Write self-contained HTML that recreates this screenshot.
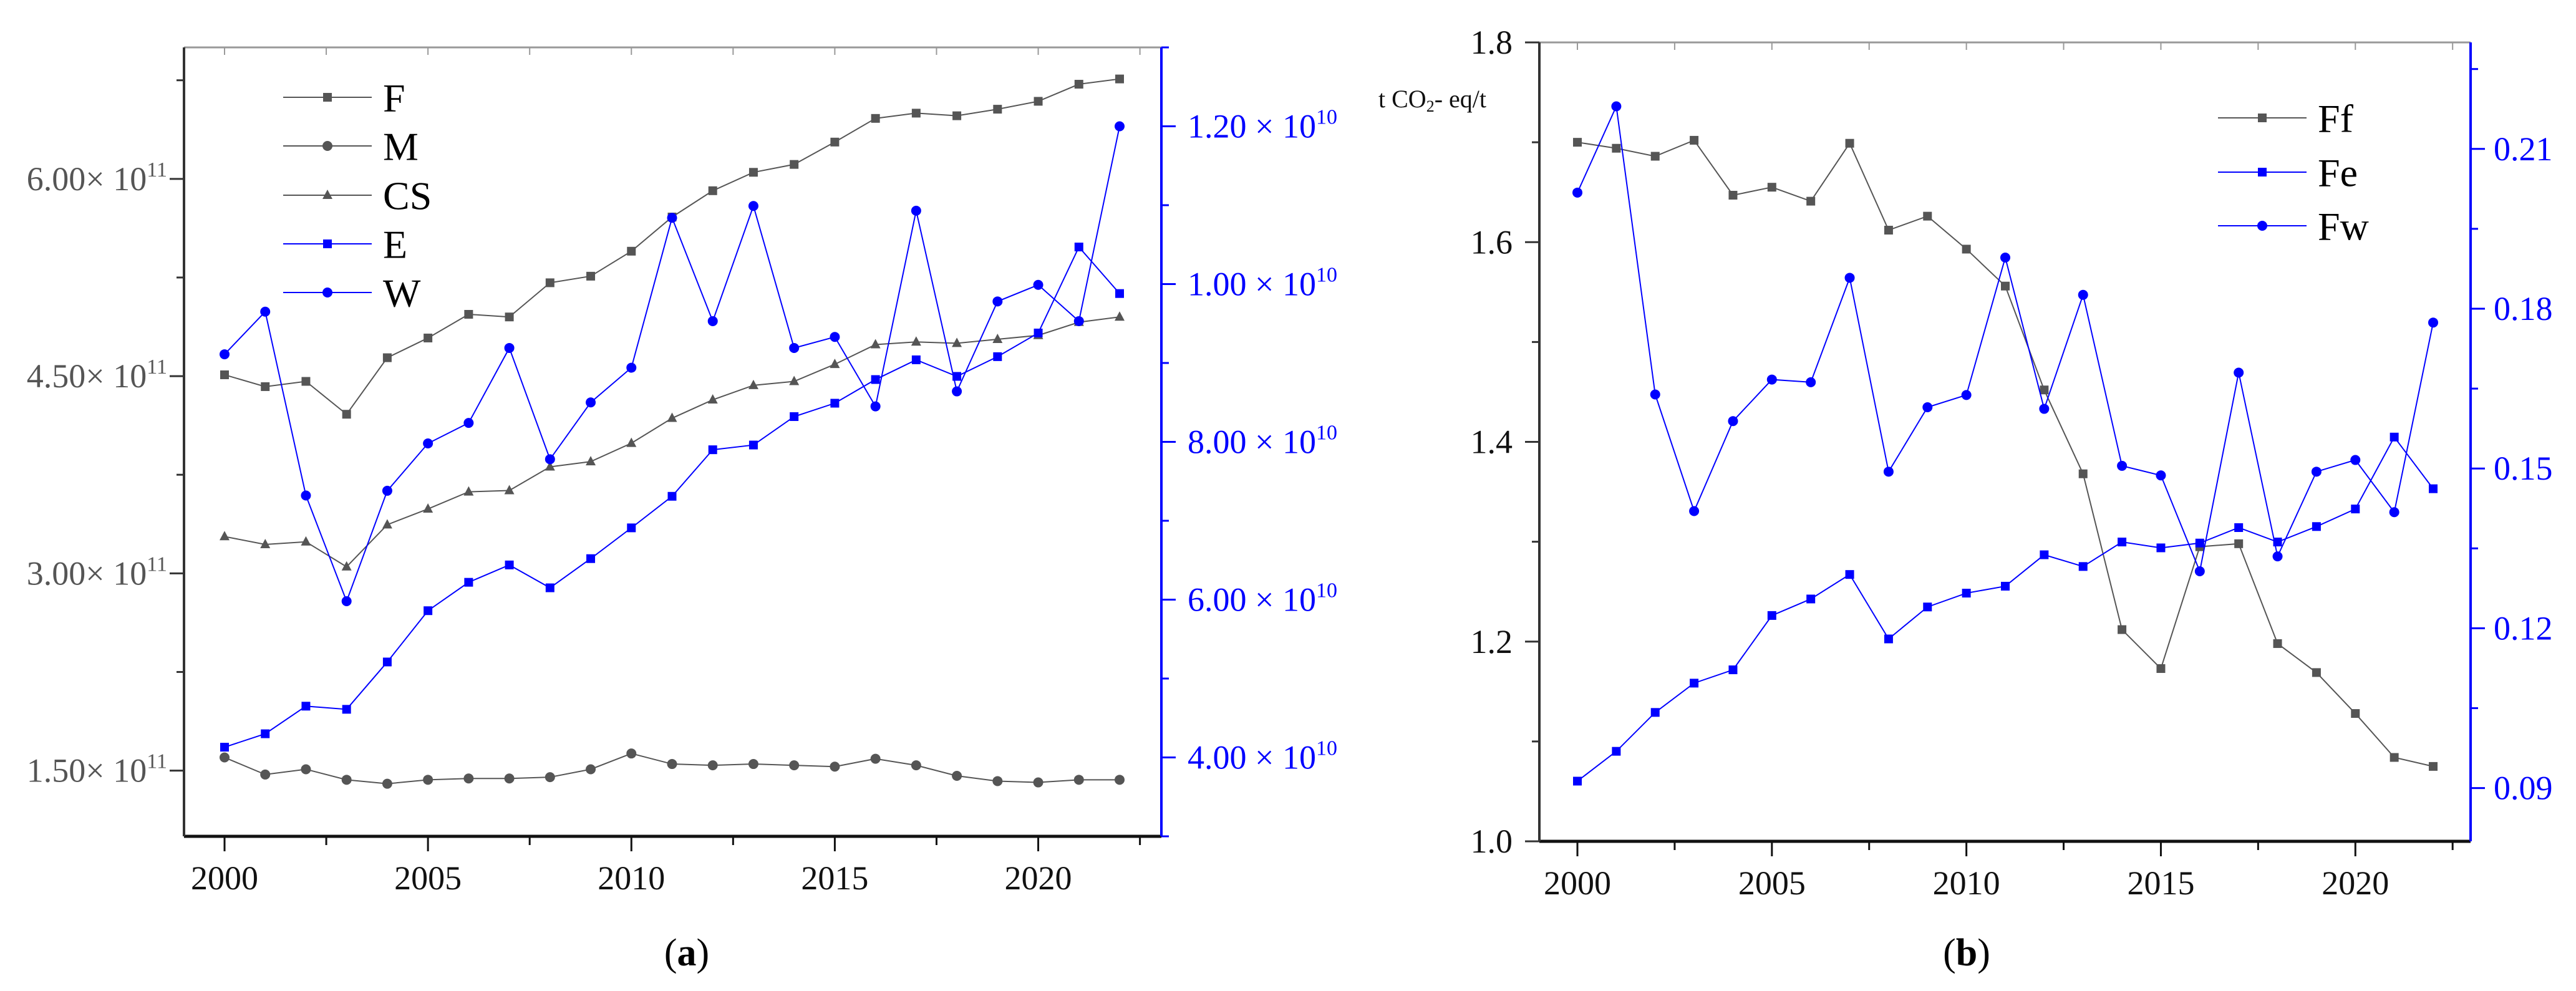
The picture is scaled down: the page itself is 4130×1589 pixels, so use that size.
<!DOCTYPE html>
<html><head><meta charset="utf-8">
<style>
html,body{margin:0;padding:0;background:#fff;}
svg{display:block;font-family:"Liberation Serif","Times New Roman",serif;}
</style></head>
<body>
<svg id="fig" width="4130" height="1589" viewBox="0 0 4130 1589" xmlns="http://www.w3.org/2000/svg" font-family="Liberation Serif, serif"></svg>
<script>
const years = [2000,2001,2002,2003,2004,2005,2006,2007,2008,2009,2010,2011,2012,2013,2014,2015,2016,2017,2018,2019,2020,2021,2022];
// Panel (a): left axis in units of 1e11, right axis in units of 1e9
const seriesF = [4.51,4.42,4.46,4.21,4.64,4.79,4.97,4.95,5.21,5.26,5.45,5.71,5.91,6.05,6.11,6.28,6.46,6.50,6.48,6.53,6.59,6.72,6.76];
const seriesM = [1.60,1.47,1.51,1.43,1.40,1.43,1.44,1.44,1.45,1.51,1.63,1.55,1.54,1.55,1.54,1.53,1.59,1.54,1.46,1.42,1.41,1.43,1.43];
const seriesCS = [3.28,3.22,3.24,3.05,3.37,3.49,3.62,3.63,3.81,3.85,3.99,4.18,4.32,4.43,4.46,4.59,4.74,4.76,4.75,4.78,4.81,4.91,4.95];
const seriesE = [4.13,4.30,4.65,4.61,5.21,5.86,6.22,6.44,6.15,6.52,6.91,7.31,7.90,7.96,8.32,8.49,8.79,9.04,8.83,9.08,9.38,10.47,9.88];
const seriesW = [9.11,9.65,7.32,5.98,7.38,7.98,8.24,9.19,7.78,8.50,8.94,10.84,9.53,10.99,9.19,9.33,8.45,10.93,8.64,9.78,9.99,9.53,12.0];
const aLeftTicks = [1.5,3.0,4.5,6.0];
const aLeftLabels = ["1.50","3.00","4.50","6.00"];
const aRightTicks = [4,6,8,10,12];
const aRightLabels = ["4.00","6.00","8.00","1.00","1.20"];
const aRightExp = ["10","10","10","10","10"];
// Panel (b)
const seriesFf = [1.700,1.694,1.686,1.702,1.647,1.655,1.641,1.699,1.612,1.626,1.593,1.556,1.452,1.368,1.212,1.173,1.295,1.298,1.198,1.169,1.128,1.084,1.075];
const seriesFe = [0.0913,0.0969,0.1042,0.1097,0.1122,0.1224,0.1255,0.1301,0.1180,0.1240,0.1266,0.1279,0.1338,0.1316,0.1362,0.1351,0.1360,0.1389,0.1362,0.1391,0.1424,0.1559,0.1462];
const seriesFw = [0.2018,0.2180,0.1639,0.1420,0.1589,0.1667,0.1662,0.1858,0.1494,0.1615,0.1638,0.1896,0.1612,0.1826,0.1505,0.1487,0.1307,0.1680,0.1335,0.1494,0.1516,0.1418,0.1774];
const bLeftTicks = [1.0,1.2,1.4,1.6,1.8];
const bLeftLabels = ["1.0","1.2","1.4","1.6","1.8"];
const bRightTicks = [0.09,0.12,0.15,0.18,0.21];
const bRightLabels = ["0.09","0.12","0.15","0.18","0.21"];
const xTickYears = [2000,2005,2010,2015,2020];

const NS="http://www.w3.org/2000/svg";
const svg=document.getElementById('fig');
function mk(tag,attrs,parent){const e=document.createElementNS(NS,tag);for(const k in attrs)e.setAttribute(k,attrs[k]);if(tag==='text')e.setAttribute('font-family','Liberation Serif, serif');(parent||svg).appendChild(e);return e;}
function lin(d0,d1,r0,r1){return v=>r0+(v-d0)*(r1-r0)/(d1-d0);}
const GRAY="#555", BLUE="#0000ff";

function marker(g,shape,x,y,color){
  let m;
  if(shape==='sq') m=mk('rect',{x:x-7,y:y-7,width:14,height:14,fill:color},g);
  else if(shape==='ci') m=mk('circle',{cx:x,cy:y,r:8,fill:color},g);
  else m=mk('polygon',{points:`${x},${y-9} ${x-8},${y+6} ${x+8},${y+6}`,fill:color},g);
  
  
}
function series(name,vals,xs,ys,color,shape){
  const g=mk('g',{});
  
  
  const pts=vals.map((v,i)=>xs(years[i])+','+ys(v)).join(' ');
  const l=mk('polyline',{points:pts,fill:'none',stroke:color,'stroke-width':2},g);
  
  
  vals.forEach((v,i)=>marker(g,shape,xs(years[i]),ys(v),color));
}
function legend(name,x,y,color,shape,fs){
  const g=mk('g',{});
  
  
  mk('line',{x1:x,y1:y,x2:x+142,y2:y,stroke:color,'stroke-width':2},g);
  marker(g,shape,x+71,y,color);
  const t=mk('text',{x:x+160,y:y+fs*0.35,'font-size':fs,fill:'#000'},g);
  t.textContent=name;
}
function xAxis(xs,L,R,T,B){
  const g=mk('g',{});
  
  
  mk('line',{x1:L,y1:T,x2:R,y2:T,stroke:'#999','stroke-width':3},g);
  mk('line',{x1:L,y1:B,x2:R,y2:B,stroke:'#111','stroke-width':5},g);
  for(let yr=2000;yr<=2022.5;yr+=2.5){
    const major=xTickYears.includes(yr);
    mk('line',{x1:xs(yr),y1:B,x2:xs(yr),y2:B+(major?24:14),stroke:'#111','stroke-width':3},g);
    mk('line',{x1:xs(yr),y1:T,x2:xs(yr),y2:T+12,stroke:'#999','stroke-width':2},g);
  }
  xTickYears.forEach(yr=>{
    const t=mk('text',{x:xs(yr),y:B+85,'font-size':54,'text-anchor':'middle',fill:'#111'},g);
    
    
    t.textContent=yr;
  });
}

// ===== Panel (a) =====
{
  const L=295,R=1862,T=76,B=1341;
  const xs=lin(2000,2022,360,1795);
  const yl=lin(1,7,B,T), yr=lin(3,13,B,T);
  xAxis(xs,L,R,T,B);
  const ga=mk('g',{});  
  mk('line',{x1:L,y1:T,x2:L,y2:B,stroke:'#333','stroke-width':4},ga);
  for(let v=1.5;v<=7;v+=0.75){const major=aLeftTicks.includes(v);mk('line',{x1:L,y1:yl(v),x2:L-(major?23:12),y2:yl(v),stroke:'#333','stroke-width':3},ga);}
  aLeftTicks.forEach((v,i)=>{
    const t=mk('text',{x:268,y:yl(v)+18,'font-size':54,'text-anchor':'end',fill:GRAY},ga);
    
    
    t.innerHTML=aLeftLabels[i]+'× 10<tspan font-size="34" dy="-22">11</tspan>';
  });
  const gr=mk('g',{});  
  mk('line',{x1:R,y1:T,x2:R,y2:B,stroke:BLUE,'stroke-width':4},gr);
  for(let v=3;v<=13;v+=1){const major=aRightTicks.includes(v);mk('line',{x1:R,y1:yr(v),x2:R+(major?23:12),y2:yr(v),stroke:BLUE,'stroke-width':3},gr);}
  aRightTicks.forEach((v,i)=>{
    const t=mk('text',{x:1904,y:yr(v)+18,'font-size':54,fill:BLUE},gr);
    
    
    t.innerHTML=aRightLabels[i]+' × 10<tspan font-size="34" dy="-22">'+aRightExp[i]+'</tspan>';
  });
  series('F',seriesF,xs,yl,GRAY,'sq');
  series('M',seriesM,xs,yl,GRAY,'ci');
  series('CS',seriesCS,xs,yl,GRAY,'tr');
  series('E',seriesE,xs,yr,BLUE,'sq');
  series('W',seriesW,xs,yr,BLUE,'ci');
  legend('F',454,156,GRAY,'sq',64);
  legend('M',454,234,GRAY,'ci',64);
  legend('CS',454,313,GRAY,'tr',64);
  legend('E',454,391,BLUE,'sq',64);
  legend('W',454,469,BLUE,'ci',64);
  const c=mk('text',{x:1101,y:1548,'font-size':62,'text-anchor':'middle',fill:'#000'});
   
  c.innerHTML='(<tspan font-weight="bold">a</tspan>)';
}

// ===== Panel (b) =====
{
  const L=2468,R=3961,T=68,B=1349;
  const xs=lin(2000,2022,2529,3901);
  const yl=lin(1.0,1.8,B,T), yr=lin(0.08,0.23,B,T);
  xAxis(xs,L,R,T,B);
  const ga=mk('g',{});  
  mk('line',{x1:L,y1:T,x2:L,y2:B,stroke:'#333','stroke-width':4},ga);
  for(let k=0;k<=8;k++){const v=1.0+k*0.1;const major=k%2===0;mk('line',{x1:L,y1:yl(v),x2:L-(major?23:12),y2:yl(v),stroke:'#333','stroke-width':3},ga);}
  bLeftTicks.forEach((v,i)=>{
    const t=mk('text',{x:2425,y:yl(v)+18,'font-size':54,'text-anchor':'end',fill:'#111'},ga);
    
    
    t.textContent=bLeftLabels[i];
  });
  const u=mk('text',{x:2210,y:172,'font-size':40,fill:'#111'},ga);
   
  u.innerHTML='t CO<tspan font-size="26" dy="7">2</tspan><tspan dy="-7">- eq/t</tspan>';
  const gr=mk('g',{});  
  mk('line',{x1:R,y1:T,x2:R,y2:B,stroke:BLUE,'stroke-width':4},gr);
  for(let k=0;k<=10;k++){const v=0.075+k*0.015;if(v<0.0799)continue;const major=bRightTicks.some(t=>Math.abs(t-v)<1e-6);mk('line',{x1:R,y1:yr(v),x2:R+(major?23:12),y2:yr(v),stroke:BLUE,'stroke-width':3},gr);}
  bRightTicks.forEach((v,i)=>{
    const t=mk('text',{x:3998,y:yr(v)+18,'font-size':54,fill:BLUE},gr);
    
    
    t.textContent=bRightLabels[i];
  });
  series('Ff',seriesFf,xs,yl,GRAY,'sq');
  series('Fe',seriesFe,xs,yr,BLUE,'sq');
  series('Fw',seriesFw,xs,yr,BLUE,'ci');
  legend('Ff',3556,189,GRAY,'sq',64);
  legend('Fe',3556,276,BLUE,'sq',64);
  legend('Fw',3556,362,BLUE,'ci',64);
  const c=mk('text',{x:3153,y:1548,'font-size':62,'text-anchor':'middle',fill:'#000'});
   
  c.innerHTML='(<tspan font-weight="bold">b</tspan>)';
}
</script>
</body></html>
